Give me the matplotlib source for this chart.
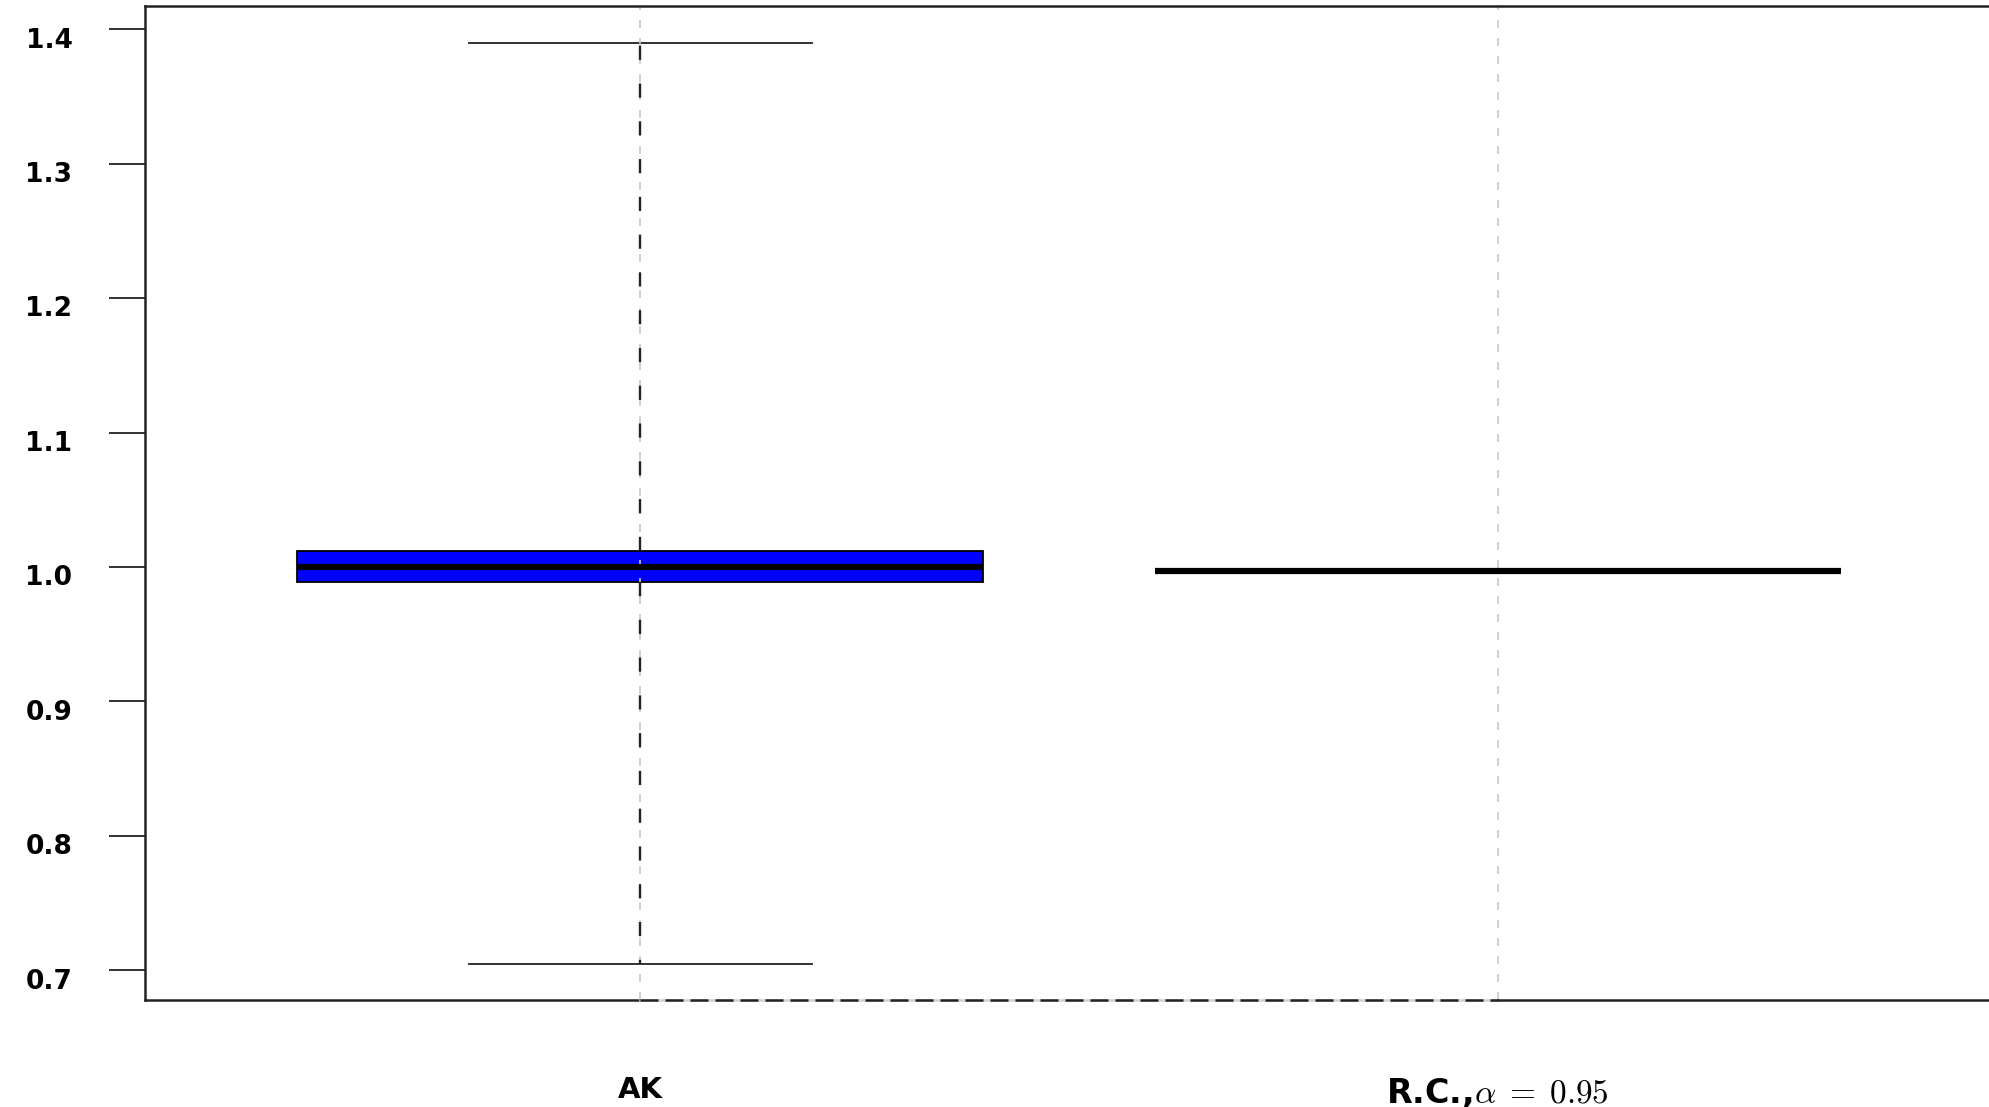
import matplotlib
matplotlib.use("Agg")
import matplotlib.pyplot as plt
from matplotlib.transforms import ScaledTranslation

plt.rcParams['mathtext.fontset'] = 'cm'

# summary statistics per method
methods = ["AK", r"R.C.,$\alpha\;=\;0.95$"]
whislo = [0.705, 0.997]
q1 = [0.9885, 0.997]
med = [1.000, 0.997]
q3 = [1.0116, 0.997]
whishi = [1.3896, 0.997]
yticks = [0.7, 0.8, 0.9, 1.0, 1.1, 1.2, 1.3, 1.4]

stats = [dict(label=m, whislo=a, q1=b, med=c, q3=d, whishi=e, fliers=[])
         for m, a, b, c, d, e in zip(methods, whislo, q1, med, q3, whishi)]
pos = [1, 2]

fig = plt.figure(figsize=(19.9, 11.07), dpi=100)
ax = fig.add_axes([0.0727, 0.0967, 0.929, 0.8976])

ax.bxp(stats, positions=pos, widths=0.8, patch_artist=True,
       boxprops=dict(facecolor='#0000ff', edgecolor='black', linewidth=1.3, zorder=2),
       medianprops=dict(color='black', linewidth=4.5, solid_capstyle='butt', zorder=4),
       whiskerprops=dict(color='#222222', linewidth=1.7, linestyle=(0, (6, 10)), zorder=3),
       capprops=dict(color='#222222', linewidth=1.3),
       capwidths=0.4)

# vertical guides at each group
for p in pos:
    ax.axvline(p, color='#c8c8c8', linewidth=1.2, linestyle=(0, (4.8, 6)), zorder=2.5)

xlo, xhi = 0.422, 2.578
ylo, yhi = 0.678, 1.417
ax.set_xlim(xlo, xhi)
ax.set_ylim(ylo, yhi)

# bottom frame: solid outside the groups, dashed between them
ax.spines['bottom'].set_visible(False)
ax.plot([xlo, pos[0]], [ylo, ylo], color='#222222', linewidth=1.8, clip_on=False, zorder=5)
ax.plot([pos[0], pos[1]], [ylo, ylo], color='#d0d0d0', linewidth=1.8, clip_on=False, zorder=5)
ax.plot([pos[0], pos[1]], [ylo, ylo], color='#222222', linewidth=1.8,
        linestyle=(0, (7.2, 2.8)), clip_on=False, zorder=5)
ax.plot([pos[1], xhi], [ylo, ylo], color='#222222', linewidth=1.8, clip_on=False, zorder=5)
for s in ['left', 'top', 'right']:
    ax.spines[s].set_linewidth(1.8)
    ax.spines[s].set_color('#222222')

ax.set_yticks(yticks)
ax.set_yticklabels([f"{v:.1f}" for v in yticks], fontsize=19, fontweight='bold')
ax.tick_params(axis='y', length=26, width=1.3, pad=26, color='#222222')
shift = ScaledTranslation(0, -6 / 72, fig.dpi_scale_trans)
for lab in ax.get_yticklabels():
    lab.set_transform(lab.get_transform() + shift)

ax.set_xticks(pos)
ax.set_xticklabels(methods, fontsize=21, fontweight='bold')
ax.get_xticklabels()[1].set_fontsize(24)
ax.tick_params(axis='x', length=0, pad=55)

fig.savefig("out.png", dpi=100)
